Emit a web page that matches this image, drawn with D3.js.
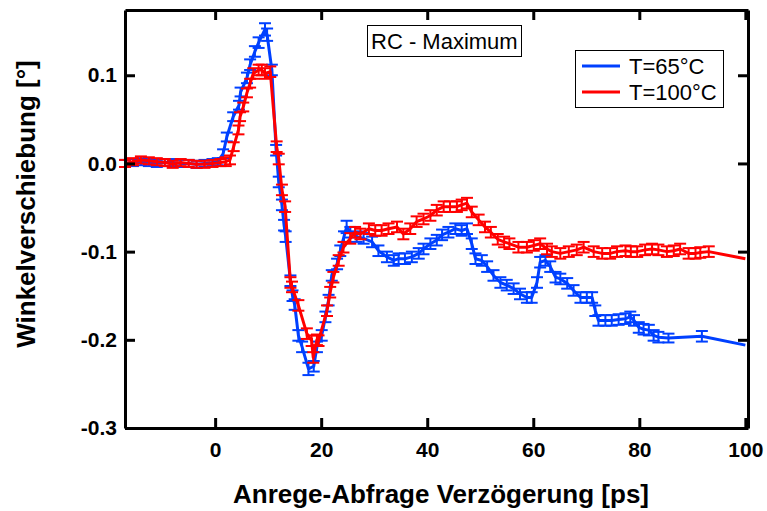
<!DOCTYPE html>
<html>
<head>
<meta charset="utf-8">
<script src="https://cdn.jsdelivr.net/npm/d3@7"></script>
<style>
  body { margin: 0; background: #fff; }
  svg { font-family: "Liberation Sans", Arial, sans-serif; }
  .tick text { font-weight: bold; font-size: 21px; fill: #000; }
  .axis path, .axis line { stroke: #000; stroke-width: 3px; }
</style>
</head>
<body>
<script>
// [delay ps, shift deg, error]
const blue65 = [
  [-17, 0.000, 0.004], [-15.5, 0.001, 0.004], [-14, 0.002, 0.004], [-12.5, 0.001, 0.004],
  [-11, 0.000, 0.004], [-9.5, 0.001, 0.004], [-8, 0.001, 0.004], [-6.5, 0.000, 0.004],
  [-5, 0.000, 0.004], [-3.5, -0.001, 0.004], [-2, 0.000, 0.004], [-0.5, 0.001, 0.004],
  [0.5, 0.002, 0.004], [1.5, 0.011, 0.005], [2.2, 0.030, 0.005], [3.4, 0.053, 0.005],
  [4.5, 0.066, 0.005], [4.8, 0.081, 0.005], [6.0, 0.097, 0.006], [6.6, 0.112, 0.006],
  [7.5, 0.127, 0.006], [8.2, 0.137, 0.006], [9.4, 0.152, 0.007], [9.8, 0.146, 0.007],
  [10.7, 0.106, 0.006], [11.5, 0.015, 0.006], [12.0, -0.021, 0.006], [12.6, -0.047, 0.006],
  [13.0, -0.070, 0.006], [13.3, -0.083, 0.006], [14.2, -0.133, 0.006], [14.6, -0.150, 0.006],
  [15.0, -0.160, 0.006], [15.7, -0.195, 0.006], [16.4, -0.208, 0.006], [17.6, -0.233, 0.007],
  [18.6, -0.230, 0.006], [19.2, -0.208, 0.006], [20.1, -0.195, 0.006], [20.8, -0.174, 0.006],
  [21.4, -0.155, 0.006], [22.0, -0.127, 0.006], [23.0, -0.114, 0.006], [23.6, -0.099, 0.006],
  [24.3, -0.083, 0.006], [24.8, -0.072, 0.007], [25.5, -0.078, 0.006], [26.7, -0.083, 0.006],
  [28.0, -0.085, 0.006], [29.6, -0.089, 0.006], [30.8, -0.099, 0.006], [32.4, -0.106, 0.006],
  [33.7, -0.110, 0.006], [34.6, -0.108, 0.006], [35.8, -0.108, 0.006], [37.1, -0.106, 0.006],
  [38.4, -0.102, 0.006], [39.3, -0.097, 0.006], [40.6, -0.091, 0.006], [41.8, -0.087, 0.006],
  [42.8, -0.081, 0.006], [44.0, -0.078, 0.006], [45.3, -0.074, 0.006], [46.5, -0.076, 0.006],
  [47.5, -0.074, 0.006], [48.4, -0.091, 0.006], [49.1, -0.108, 0.006], [50.3, -0.110, 0.006],
  [51.3, -0.117, 0.006], [52.5, -0.127, 0.006], [53.8, -0.135, 0.006], [55.0, -0.138, 0.006],
  [56.3, -0.142, 0.006], [57.5, -0.148, 0.006], [58.8, -0.152, 0.006], [59.7, -0.152, 0.006],
  [60.7, -0.135, 0.006], [61.3, -0.112, 0.006], [62.3, -0.110, 0.006], [63.2, -0.117, 0.006],
  [64.2, -0.129, 0.006], [65.1, -0.131, 0.006], [66.4, -0.136, 0.006], [67.6, -0.144, 0.006],
  [68.9, -0.152, 0.006], [70.1, -0.152, 0.006], [71.1, -0.152, 0.006], [71.7, -0.167, 0.006],
  [72.3, -0.178, 0.006], [73.6, -0.178, 0.006], [74.8, -0.178, 0.006], [76.1, -0.177, 0.006],
  [77.4, -0.176, 0.006], [78.3, -0.174, 0.006], [79.0, -0.178, 0.006], [79.9, -0.186, 0.006],
  [80.8, -0.188, 0.006], [81.8, -0.189, 0.006], [82.7, -0.195, 0.006], [83.6, -0.197, 0.006],
  [85.5, -0.198, 0.005], [91.8, -0.196, 0.006], [100, -0.206, 0]
];

const red100 = [
  [-17, 0.000, 0.004], [-15.5, 0.002, 0.004], [-14, 0.004, 0.004], [-12.5, 0.003, 0.004],
  [-11, 0.002, 0.004], [-9.5, 0.001, 0.004], [-8, -0.001, 0.004], [-6.5, 0.001, 0.004],
  [-5, 0.000, 0.004], [-3.5, -0.001, 0.004], [-2, -0.001, 0.004], [-0.5, 0.000, 0.004],
  [1.0, 0.001, 0.004], [2.0, 0.002, 0.005], [2.8, 0.004, 0.005], [3.5, 0.019, 0.005],
  [4.4, 0.038, 0.005], [4.7, 0.053, 0.005], [5.3, 0.064, 0.005], [6.0, 0.080, 0.005],
  [6.6, 0.091, 0.005], [7.2, 0.102, 0.006], [8.2, 0.106, 0.006], [8.8, 0.106, 0.006],
  [9.4, 0.102, 0.006], [10.4, 0.104, 0.006], [11.6, 0.019, 0.006], [12.0, 0.005, 0.006],
  [12.6, -0.030, 0.006], [13.2, -0.049, 0.006], [14.2, -0.135, 0.006], [14.5, -0.140, 0.006],
  [15.7, -0.161, 0.006], [17.3, -0.193, 0.006], [18.2, -0.201, 0.006], [18.5, -0.220, 0.006],
  [19.2, -0.200, 0.006], [19.5, -0.201, 0.006], [21.1, -0.167, 0.006], [21.7, -0.146, 0.006],
  [22.3, -0.129, 0.006], [23.3, -0.110, 0.006], [24.2, -0.095, 0.006], [25.5, -0.085, 0.006],
  [26.4, -0.078, 0.006], [27.4, -0.080, 0.006], [29.0, -0.074, 0.006], [30.2, -0.076, 0.006],
  [31.4, -0.076, 0.006], [32.7, -0.074, 0.006], [34.3, -0.072, 0.006], [35.5, -0.080, 0.006],
  [36.8, -0.074, 0.006], [38.0, -0.066, 0.006], [39.3, -0.063, 0.006], [40.6, -0.059, 0.006],
  [41.8, -0.053, 0.006], [43.1, -0.049, 0.006], [44.3, -0.049, 0.006], [45.6, -0.049, 0.006],
  [46.5, -0.047, 0.006], [47.5, -0.045, 0.006], [48.4, -0.055, 0.006], [49.7, -0.064, 0.006],
  [50.9, -0.072, 0.006], [52.0, -0.078, 0.006], [53.3, -0.086, 0.006], [54.5, -0.089, 0.006],
  [55.5, -0.091, 0.006], [57.2, -0.095, 0.006], [58.8, -0.095, 0.006], [60.1, -0.093, 0.006],
  [61.3, -0.091, 0.006], [62.6, -0.097, 0.006], [63.5, -0.100, 0.006], [65.1, -0.102, 0.006],
  [66.7, -0.100, 0.006], [68.2, -0.098, 0.006], [69.5, -0.095, 0.006], [71.4, -0.100, 0.006],
  [73.0, -0.102, 0.006], [74.5, -0.102, 0.006], [75.8, -0.100, 0.006], [77.4, -0.099, 0.006],
  [78.4, -0.100, 0.006], [79.6, -0.100, 0.006], [81.1, -0.098, 0.006], [82.4, -0.097, 0.006],
  [83.6, -0.098, 0.006], [85.2, -0.100, 0.006], [86.5, -0.099, 0.006], [87.7, -0.097, 0.006],
  [89.3, -0.102, 0.006], [90.6, -0.102, 0.006], [91.5, -0.101, 0.006], [93.1, -0.100, 0.006],
  [100, -0.108, 0]
];

const xTicks = [0, 20, 40, 60, 80, 100];
const yTicks = [0.1, 0.0, -0.1, -0.2, -0.3];
const seriesNames = ["T=65°C", "T=100°C"];
const seriesColors = ["#0040ff", "#ff0000"];

const width = 767, height = 511;
const margin = { left: 125, right: 748, top: 10, bottom: 428 };

const svg = d3.select("body").append("svg")
    .attr("width", width)
    .attr("height", height);

const x = d3.scaleLinear().domain([-17, 100.5]).range([margin.left, margin.right]);
const y = d3.scaleLinear().domain([-0.3, 0.174]).range([margin.bottom, margin.top]);

const plot = svg.append("g");

function drawSeries(data, color) {
    const g = plot.append("g");
    g.selectAll("g.err")
        .data(data.filter(d => d[2] > 0))
        .join("g")
        .attr("class", "err")
        .each(function (d) {
            const e = d3.select(this);
            const cx = x(d[0]), y1 = y(d[1] + d[2]), y2 = y(d[1] - d[2]);
            e.append("line").attr("x1", cx).attr("x2", cx).attr("y1", y1).attr("y2", y2);
            e.append("line").attr("x1", cx - 6).attr("x2", cx + 6).attr("y1", y1).attr("y2", y1);
            e.append("line").attr("x1", cx - 6).attr("x2", cx + 6).attr("y1", y2).attr("y2", y2);
        })
        .selectAll("line")
        .attr("stroke", color)
        .attr("stroke-width", 2);
    g.append("path")
        .datum(data)
        .attr("fill", "none")
        .attr("stroke", color)
        .attr("stroke-width", 3)
        .attr("stroke-linejoin", "round")
        .attr("d", d3.line().x(d => x(d[0])).y(d => y(d[1])));
}

drawSeries(blue65, seriesColors[0]);
drawSeries(red100, seriesColors[1]);

// axes: ticks point inward on all four sides
svg.append("g").attr("class", "axis")
    .attr("transform", `translate(0,${margin.bottom})`)
    .call(d3.axisBottom(x).tickValues(xTicks).tickSizeInner(-10).tickSizeOuter(0).tickPadding(14).tickFormat(d3.format("d")));
svg.append("g").attr("class", "axis")
    .attr("transform", `translate(0,${margin.top})`)
    .call(d3.axisTop(x).tickValues(xTicks).tickSizeInner(-10).tickSizeOuter(0).tickFormat(""));
svg.append("g").attr("class", "axis")
    .attr("transform", `translate(${margin.left},0)`)
    .call(d3.axisLeft(y).tickValues(yTicks).tickSizeInner(-10).tickSizeOuter(0).tickPadding(8).tickFormat(d3.format(".1f")));
svg.append("g").attr("class", "axis")
    .attr("transform", `translate(${margin.right},0)`)
    .call(d3.axisRight(y).tickValues(yTicks).tickSizeInner(-10).tickSizeOuter(0).tickFormat(""));

svg.selectAll(".axis .tick text").text(function () {
    return d3.select(this).text().replace("−", "-");
});

// axis titles
svg.append("text")
    .attr("x", 441).attr("y", 503)
    .attr("text-anchor", "middle")
    .style("font-weight", "bold").style("font-size", "26px")
    .text("Anrege-Abfrage Verzögerung [ps]");
svg.append("text")
    .attr("transform", "translate(35,204) rotate(-90)")
    .attr("text-anchor", "middle")
    .style("font-weight", "bold").style("font-size", "26px")
    .text("Winkelverschiebung [°]");

// label box
svg.append("rect")
    .attr("x", 367.5).attr("y", 25.5).attr("width", 154).attr("height", 31)
    .attr("fill", "#fff").attr("stroke", "#000").attr("stroke-width", 1);
svg.append("text")
    .attr("x", 371).attr("y", 49)
    .style("font-size", "22px")
    .text("RC - Maximum");

// legend
const legend = svg.append("g");
legend.append("rect")
    .attr("x", 575.5).attr("y", 50.5).attr("width", 148).attr("height", 57)
    .attr("fill", "#fff").attr("stroke", "#000").attr("stroke-width", 1);
seriesNames.forEach((name, i) => {
    const ly = 66 + i * 26;
    legend.append("line")
        .attr("x1", 582).attr("x2", 620).attr("y1", ly).attr("y2", ly)
        .attr("stroke", seriesColors[i]).attr("stroke-width", 3);
    legend.append("text")
        .attr("x", 629).attr("y", ly + 8)
        .style("font-size", "22px")
        .text(name);
});
</script>
</body>
</html>
